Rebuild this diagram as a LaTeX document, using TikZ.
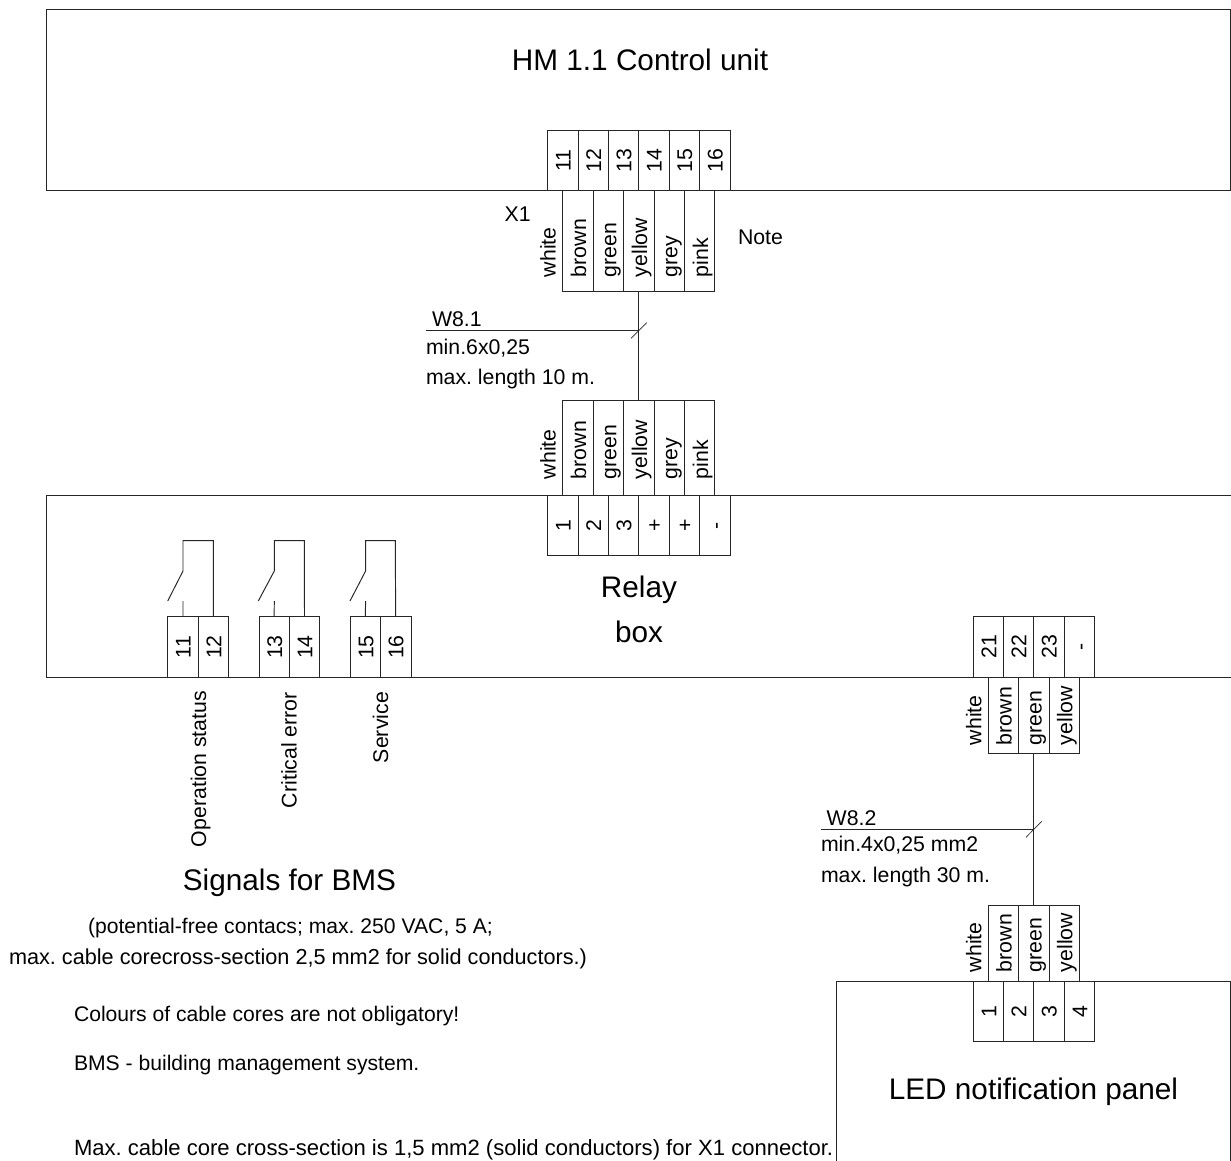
\documentclass[tikz,border=0pt]{standalone}
\usepackage{fontspec}
\setmainfont{Liberation Sans}
\frenchspacing
\tikzset{
  ln/.style={draw=black!85,line width=0.72pt},
  cellbox/.style={ln,rectangle,inner sep=0pt,outer sep=0pt,anchor=north west},
  txt/.style={inner sep=0pt,outer sep=0pt,anchor=base west,font=\fontsize{15.95pt}{18pt}\selectfont},
  note/.style={txt,font=\fontsize{15.85pt}{18pt}\selectfont},
  big/.style={inner sep=0pt,outer sep=0pt,anchor=base,font=\fontsize{22.3pt}{26pt}\selectfont},
  vert/.style={txt,rotate=90},
  num/.style={inner sep=0pt,outer sep=0pt,anchor=base,rotate=90,font=\fontsize{15.95pt}{18pt}\selectfont},
}
% name, left x, top y, right x, bottom y
\newcommand{\cellat}[5]{\node[cellbox,minimum width={((#4)-(#2))*0.75pt},minimum height={((#5)-(#3))*0.75pt}] (#1) at (#2,#3) {};}
\begin{document}
\begin{tikzpicture}[x=0.75pt,y=-0.75pt]
\useasboundingbox (0,0) rectangle (1231,1160);
% main units
\cellat{hm}{46}{9.5}{1230.5}{190.7}
\cellat{relay}{46}{495}{1240}{677.3}
\cellat{led}{836.3}{981}{1230.5}{1175}
\clip (0,0) rectangle (1231,1160);
\node[big] (hmtitle) at (640,70.5) {HM 1.1 Control unit};
\node[big] (relayA) at (639,597.5) {Relay};
\node[big] (relayB) at (639,642.5) {box};
\node[big] (bms) at (289.5,890) {Signals for BMS};
\node[big] (ledtitle) at (1033.5,1099) {LED notification panel};
% X1 terminals
\foreach \n/\a/\b/\t in {1/547.7/578/11,2/578/608.3/12,3/608.3/638.7/13,4/638.7/669/14,5/669/699.5/15,6/699.5/730/16}{
  \cellat{xt\n}{\a}{130.7}{\b}{190.7}
  \node[num] (xtl\n) at ({\a+23},160.7) {\t};
}
% upper wire block
\foreach \n/\a/\b/\t in {1/562.7/593/brown,2/593/623.7/green,3/623.7/654/yellow,4/654/684.7/grey,5/684.7/714.7/pink}{
  \cellat{wa\n}{\a}{190.7}{\b}{291.3}
  \node[vert] (wal\n) at ({\a+23.3},277) {\t};
  \cellat{wb\n}{\a}{400}{\b}{495}
  \node[vert] (wbl\n) at ({\a+23.3},479) {\t};
}
\node[vert] (wawhite) at (555.7,277) {white};
\node[vert] (wbwhite) at (555.7,479) {white};
\node[txt] (x1) at (504.7,221.7) {X1};
\node[txt] (notelabel) at (738,244) {Note};
% relay terminals
\foreach \n/\a/\b/\t in {1/547.7/578/1,2/578/608.3/2,3/608.3/638.7/3,4/638.7/669/+,5/669/699.5/+,6/699.5/730/-}{
  \cellat{rt\n}{\a}{495}{\b}{555.7}
  \node[num] (rtl\n) at ({\a+23},525.5) {\t};
}
% cable W8.1
\draw[ln] (wa3.south) -- (wb3.north);
\coordinate (w81s) at (426,330.5);
\coordinate (w81j) at (638.7,330.5);
\coordinate (w81a) at (631,338.3);
\coordinate (w81b) at (646.7,322.7);
\draw[ln] (w81s) -- (w81j);
\draw[ln,line width=0.5pt] (w81a) -- (w81b);
\node[txt] (w81t) at (432,326) {W8.1};
\node[txt] (w81m) at (426,354) {min.6x0,25};
\node[txt] (w81l) at (426,384) {max. length 10 m.};
% BMS terminals and contacts
\foreach \n/\a/\b/\c/\p/\q/\r in {1/167.7/198.3/228.3/11/12/167.7,2/259/289.3/319.7/13/14/258.3,3/350.3/380.3/411/15/16/350}{
  \cellat{bl\n}{\a}{616.7}{\b}{677.3}
  \cellat{br\n}{\b}{616.7}{\c}{677.3}
  \node[num] (bll\n) at ({\a+23},647) {\p};
  \node[num] (brl\n) at ({\b+23},647) {\q};
  \coordinate (ct\n) at ({\a+15.3},540.7);
  \coordinate (cu\n) at ({\b+15},540.7);
  \coordinate (ck\n) at ({\a+15.3},571);
  \coordinate (cd\n) at (\r,601);
  \coordinate (cs\n) at ({\a+15.3},601);
  \draw[ln] (br\n.north) -- (cu\n) -- (ct\n) -- (ck\n) -- (cd\n);
  \draw[ln] (bl\n.north) -- (cs\n);
}
\node[vert] (s1) at (206,847) {Operation status};
\node[vert] (s2) at (296.5,808) {Critical error};
\node[vert] (s3) at (388,763) {Service};
% right terminals
\foreach \n/\a/\b/\t in {1/973.3/1003.3/21,2/1003.3/1033.7/22,3/1033.7/1064.3/23,4/1064.3/1094.7/-}{
  \cellat{pt\n}{\a}{616.3}{\b}{677.3}
  \node[num] (ptl\n) at ({\a+23},646.7) {\t};
}
\foreach \n/\a/\b/\t in {1/973.3/1003.3/1,2/1003.3/1033.7/2,3/1033.7/1064.3/3,4/1064.3/1094.7/4}{
  \cellat{lt\n}{\a}{981}{\b}{1041.7}
  \node[num] (ltl\n) at ({\a+23},1011.5) {\t};
}
\foreach \n/\a/\b/\t in {1/988.3/1018.3/brown,2/1018.3/1049/green,3/1049/1079.3/yellow}{
  \cellat{va\n}{\a}{677.3}{\b}{753.3}
  \node[vert] (val\n) at ({\a+23.3},745) {\t};
  \cellat{vb\n}{\a}{905}{\b}{981}
  \node[vert] (vbl\n) at ({\a+23.3},972) {\t};
}
\node[vert] (vawhite) at (981.3,745) {white};
\node[vert] (vbwhite) at (981.3,972) {white};
% cable W8.2
\draw[ln] (va2.south) -- (vb2.north);
\coordinate (w82s) at (821,829.3);
\coordinate (w82j) at (1033.7,829.3);
\coordinate (w82a) at (1026,837.3);
\coordinate (w82b) at (1041.7,821.3);
\draw[ln] (w82s) -- (w82j);
\draw[ln,line width=0.5pt] (w82a) -- (w82b);
\node[txt] (w82t) at (826.7,825) {W8.2};
\node[txt] (w82m) at (821,851.7) {min.4x0,25 mm2};
\node[txt] (w82l) at (821,882.7) {max. length 30 m.};
% notes
\node[note] (n1) at (88,933) {(potential-free contacs; max. 250 VAC, 5 A;};
\node[txt,font=\fontsize{16.25pt}{18pt}\selectfont] (n2) at (9,964) {max. cable corecross-section 2,5 mm2 for solid conductors.)};
\node[note] (n3) at (74,1021) {Colours of cable cores are not obligatory!};
\node[note] (n4) at (74,1070.5) {BMS - building management system.};
\node[txt,font=\fontsize{16.55pt}{18pt}\selectfont] (n5) at (74,1155) {Max. cable core cross-section is 1,5 mm2 (solid conductors) for X1 connector.};
\end{tikzpicture}
\end{document}
